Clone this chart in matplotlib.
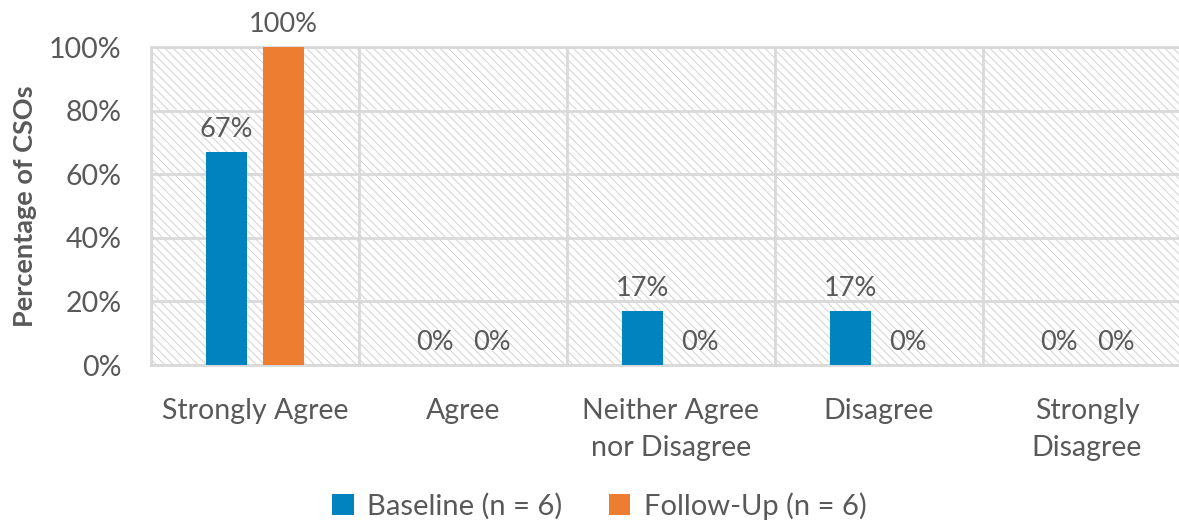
import matplotlib
matplotlib.use("Agg")
import matplotlib.pyplot as plt
from matplotlib.patches import Rectangle, Patch
import numpy as np

categories = ["Strongly Agree", "Agree", "Neither Agree\nnor Disagree", "Disagree", "Strongly\nDisagree"]
baseline = [67, 0, 17, 17, 0]
follow_up = [100, 0, 0, 0, 0]
series_names = ["Baseline (n = 6)", "Follow-Up (n = 6)"]
y_ticks = [0, 20, 40, 60, 80, 100]

BLUE = "#0083BF"
ORANGE = "#ED7D31"
TEXT = "#595959"
GRID = "#d9d9d9"

plt.rcParams["font.family"] = ["Lato", "DejaVu Sans"]
plt.rcParams["hatch.linewidth"] = 0.7

fig = plt.figure(figsize=(11.79, 5.23), dpi=100)
ax = fig.add_axes([151 / 1179, 158 / 523, 1040 / 1179, 318 / 523])

x = np.arange(len(categories))
w = 0.197
off = 0.137

# hatched plot background
ax.add_patch(Rectangle((0, 0), 1, 1, transform=ax.transAxes, facecolor="white",
                       edgecolor="#d2d2d2", linewidth=0, hatch="\\\\\\\\", zorder=0))

b1 = ax.bar(x - off, baseline, w, color=BLUE, zorder=3)
b2 = ax.bar(x + off, follow_up, w, color=ORANGE, zorder=3)

for bars, vals in ((b1, baseline), (b2, follow_up)):
    for rect, v in zip(bars, vals):
        ax.annotate(f"{v}%", (rect.get_x() + rect.get_width() / 2, v),
                    xytext=(0, 7), textcoords="offset points",
                    ha="center", va="bottom", fontsize=19.5, color=TEXT,
                    annotation_clip=False)

ax.set_xlim(-0.5, len(categories) - 0.5)
ax.set_ylim(0, 100)
ax.set_yticks(y_ticks)
ax.set_yticklabels([f"{t}%" for t in y_ticks], fontsize=20.5, color=TEXT)
ax.set_xticks(x)
ax.set_xticklabels(categories, fontsize=20.5, color=TEXT, linespacing=1.5)
ax.set_xticks(np.arange(-0.5, len(categories), 1), minor=True)
ax.tick_params(axis="both", which="both", length=0)
ax.tick_params(axis="x", pad=24)
ax.tick_params(axis="y", pad=21)

ax.grid(axis="y", which="major", color=GRID, linewidth=2, zorder=1)
ax.grid(axis="x", which="minor", color=GRID, linewidth=2, zorder=1)
ax.grid(axis="x", which="major", visible=False)
for s in ax.spines.values():
    s.set_color(GRID)
    s.set_linewidth(2)

ax.set_ylabel("Percentage of CSOs", fontsize=19.5, fontweight="bold", color=TEXT)
ax.yaxis.set_label_coords(-114 / 1040, 0.5)

handles = [Patch(facecolor=BLUE), Patch(facecolor=ORANGE)]
fig.legend(handles, series_names, loc="center", bbox_to_anchor=(599 / 1179, 1 - 506 / 523),
           ncol=2, frameon=False, fontsize=21, labelcolor=TEXT,
           handlelength=0.75, handleheight=0.75, handletextpad=0.45, columnspacing=1.6)

fig.savefig("out.png", dpi=100)
